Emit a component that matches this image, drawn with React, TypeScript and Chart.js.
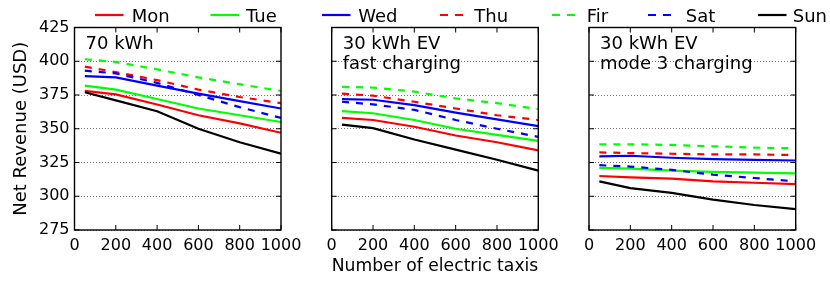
import React, { useEffect, useRef } from 'react';
import { Chart, registerables } from 'chart.js';
Chart.register(...registerables);

// ---------- data ----------
const taxis = [50, 200, 400, 600, 800, 1000];
const days = ['Mon', 'Tue', 'Wed', 'Thu', 'Fir', 'Sat', 'Sun'];
const dayColors = ['#ff0000', '#00ff00', '#0000ff', '#ff0000', '#00ff00', '#0000ff', '#000000'];
const dayDashed = [false, false, false, true, true, true, false];

const yMin = 275;
const yMax = 425;
const yStep = 25;
const xMin = 0;
const xMax = 1000;
const xStep = 200;

const panelLabels = [['70 kWh'], ['30 kWh EV', 'fast charging'], ['30 kWh EV', 'mode 3 charging']];
const yTitle = 'Net Revenue (USD)';
const xTitle = 'Number of electric taxis';

// 70 kWh
const kwh70Mon = [378, 375.5, 368, 360, 354, 347];
const kwh70Tue = [382, 379, 372, 365, 360, 355];
const kwh70Wed = [389, 388, 382, 376, 370.5, 365];
const kwh70Thu = [396, 392, 386, 379, 373.5, 369];
const kwh70Fir = [401.5, 399.5, 394, 388, 383, 378];
const kwh70Sat = [393, 391, 384, 375, 366, 358];
const kwh70Sun = [377, 371, 363, 350, 340, 331.5];

// 30 kWh EV fast charging
const fastMon = [358, 356.5, 351.5, 345, 340, 334];
const fastTue = [363, 361.5, 356.5, 350, 345.5, 341];
const fastWed = [372, 371.5, 367.5, 362, 357, 352];
const fastThu = [376, 374.5, 370, 365, 360, 356.5];
const fastFir = [381, 380.5, 377.5, 372.5, 369, 364.5];
const fastSat = [370, 368, 364, 356.5, 350, 344];
const fastSun = [353, 350.5, 342, 334.5, 327, 319];

// 30 kWh EV mode 3 charging
const mode3Mon = [315, 314, 313, 311, 310, 309];
const mode3Tue = [321, 320.5, 319, 318, 317.5, 317];
const mode3Wed = [329.5, 330, 328.5, 327.5, 327, 326.5];
const mode3Thu = [332.5, 332, 331.5, 331, 331, 330.5];
const mode3Fir = [338.5, 338.5, 338, 337, 336, 335.5];
const mode3Sat = [323, 322, 319.5, 316, 313.5, 311];
const mode3Sun = [311, 306, 302.5, 297.5, 293.5, 290.5];

const panelSeries = [
  [kwh70Mon, kwh70Tue, kwh70Wed, kwh70Thu, kwh70Fir, kwh70Sat, kwh70Sun],
  [fastMon, fastTue, fastWed, fastThu, fastFir, fastSat, fastSun],
  [mode3Mon, mode3Tue, mode3Wed, mode3Thu, mode3Fir, mode3Sat, mode3Sun],
];

// ---------- layout ----------
const W = 830;
const H = 291;
const FONT = '"DejaVu Sans", "Liberation Sans", sans-serif';
const plotTop = 27.5;
const plotBottom = 230;
const panelBoxes = [
  { L: 74.5, R: 281 },
  { L: 331.7, R: 538.3 },
  { L: 589, R: 795.7 },
];
const xAxisH = H - plotBottom;
// legend layout: [sample start, text x]
const legendPos = [
  [95, 131.7],
  [210.5, 246],
  [322, 358.3],
  [440, 474.3],
  [552, 586.7],
  [648, 685.7],
  [758, 792.7],
];

const framePlugin = {
  id: 'frame',
  afterDraw(chart: any, _args: any, opts: any) {
    const { ctx, chartArea: a, scales } = chart;
    const xs = scales.x;
    const ys = scales.y;
    ctx.save();
    ctx.strokeStyle = '#000';
    ctx.lineWidth = 1;
    ctx.beginPath();
    xs.ticks.forEach((t: any) => {
      const px = xs.getPixelForValue(t.value);
      ctx.moveTo(px, a.bottom);
      ctx.lineTo(px, a.bottom - 5);
      ctx.moveTo(px, a.top);
      ctx.lineTo(px, a.top + 5);
    });
    ys.ticks.forEach((t: any) => {
      const py = ys.getPixelForValue(t.value);
      ctx.moveTo(a.left, py);
      ctx.lineTo(a.left + 5, py);
      ctx.moveTo(a.right, py);
      ctx.lineTo(a.right - 5, py);
    });
    ctx.stroke();
    ctx.lineWidth = 1.4;
    ctx.strokeRect(a.left, a.top, a.right - a.left, a.bottom - a.top);

    ctx.fillStyle = '#000';
    ctx.font = '18px ' + FONT;
    ctx.textBaseline = 'alphabetic';
    ctx.textAlign = 'left';
    const lines: string[] = opts.lines || [];
    lines.forEach((s, i) => ctx.fillText(s, a.left + 11, a.top + 21 + i * 20.5));

    if (opts.legend) {
      chart.data.datasets.forEach((ds: any, i: number) => {
        const [sx, tx] = legendPos[i];
        ctx.strokeStyle = ds.borderColor;
        ctx.lineWidth = 2.2;
        ctx.beginPath();
        if (ds.borderDash && ds.borderDash.length) {
          ctx.moveTo(sx, 15);
          ctx.lineTo(sx + 8, 15);
          ctx.moveTo(sx + 15, 15);
          ctx.lineTo(sx + 23, 15);
        } else {
          ctx.moveTo(sx, 15);
          ctx.lineTo(sx + 28.5, 15);
        }
        ctx.stroke();
        ctx.fillStyle = '#000';
        ctx.fillText(ds.label, tx, 21.7);
      });
    }
    ctx.restore();
  },
};

function makeConfig(p: number): any {
  const box = panelBoxes[p];
  const first = p === 0;
  const yW = first ? box.L : 10;
  const datasets = days.map((d, i) => ({
    label: d,
    data: taxis.map((x, j) => ({ x, y: panelSeries[p][i][j] })),
    borderColor: dayColors[i],
    backgroundColor: dayColors[i],
    borderWidth: 2.2,
    borderDash: dayDashed[i] ? [7, 7] : [],
    pointRadius: 0,
    tension: 0,
    fill: false,
    order: days.length - 1 - i,
  }));
  return {
    type: 'line',
    data: { datasets },
    plugins: [framePlugin],
    options: {
      animation: false,
      responsive: false,
      events: [],
      layout: {
        padding: { left: box.L - yW, right: W - box.R, top: plotTop, bottom: 0 },
      },
      plugins: {
        legend: { display: false },
        tooltip: { enabled: false },
        frame: { lines: panelLabels[p], legend: first },
      },
      scales: {
        x: {
          type: 'linear',
          min: xMin,
          max: xMax,
          afterFit: (s: any) => {
            s.height = xAxisH;
            s.paddingLeft = 0;
            s.paddingRight = 0;
          },
          ticks: {
            stepSize: xStep,
            color: '#000',
            padding: -2,
            maxRotation: 0,
            autoSkip: false,
            font: { family: FONT, size: 16 },
            callback: (v: any) => String(v),
          },
          grid: { display: false },
          border: { display: false },
          title: {
            display: p === 1,
            text: xTitle,
            color: '#000',
            font: { family: FONT, size: 18 },
            padding: { top: 0, bottom: 14.2 },
          },
        },
        y: {
          type: 'linear',
          min: yMin,
          max: yMax,
          afterFit: (s: any) => {
            s.width = yW;
            s.paddingTop = 0;
            s.paddingBottom = 0;
          },
          ticks: {
            display: first,
            stepSize: yStep,
            color: '#000',
            padding: 5,
            font: { family: FONT, size: 16 },
            callback: (v: any) => String(v),
          },
          grid: {
            display: true,
            drawTicks: false,
            color: 'rgba(0,0,0,0.55)',
            lineWidth: 1,
          },
          border: { display: false, dash: [1, 2] },
          title: {
            display: first,
            text: yTitle,
            color: '#000',
            font: { family: FONT, size: 18 },
            padding: { top: 10.2, bottom: 0 },
          },
        },
      },
    },
  };
}

function Panel({ index }: { index: number }) {
  const ref = useRef<HTMLCanvasElement | null>(null);
  useEffect(() => {
    if (!ref.current) return;
    const chart = new Chart(ref.current, makeConfig(index));
    return () => chart.destroy();
  }, [index]);
  return (
    <canvas
      ref={ref}
      width={W}
      height={H}
      style={{ position: 'absolute', left: 0, top: 0, width: W, height: H }}
    />
  );
}

export default function App() {
  return (
    <div style={{ position: 'absolute', left: 0, top: 0, width: W, height: H, background: '#fff' }}>
      <Panel index={0} />
      <Panel index={1} />
      <Panel index={2} />
    </div>
  );
}
